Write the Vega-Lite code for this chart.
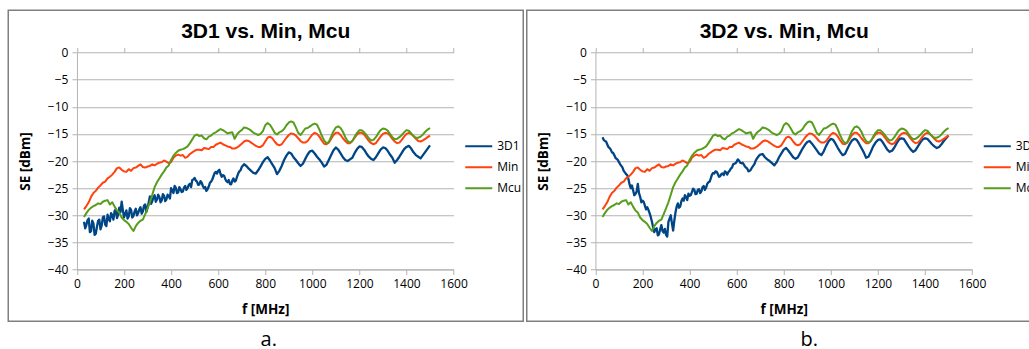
{
  "$schema": "https://vega.github.io/schema/vega-lite/v6.json",
  "background": "white",
  "padding": {"left": 7.25, "top": 9.25, "right": 0, "bottom": 6},
  "spacing": 1.5,
  "resolve": {"scale": {"color": "independent"}},
  "config": {
    "view": {"stroke": "#7f7f7f", "strokeWidth": 1.5},
    "axis": {
      "labelFont": "Open Sans", "labelFontSize": 12, "labelColor": "#000000",
      "titleFont": "Open Sans", "titleFontSize": 13.5, "titleFontWeight": "bold", "titleColor": "#000000",
      "domainColor": "#b3b3b3", "tickColor": "#b3b3b3", "gridColor": "#b3b3b3",
      "domainWidth": 1, "tickWidth": 1, "gridWidth": 1, "tickSize": 5, "labelPadding": 4,
      "labelFlush": false, "labelOverlap": false
    },
    "line": {"strokeWidth": 2, "strokeJoin": "round"}
  },
  "datasets": {
    "min": [
      {"f":30,"v":-28.9},{"f":40,"v":-28.3},{"f":50,"v":-27.6},{"f":60,"v":-26.6},{"f":70,"v":-25.9},{"f":80,"v":-25.5},{"f":90,"v":-24.9},{"f":100,"v":-24.5},{"f":110,"v":-24.0},{"f":120,"v":-23.8},
      {"f":130,"v":-23.2},{"f":140,"v":-22.9},{"f":150,"v":-22.5},{"f":160,"v":-22.0},{"f":170,"v":-21.3},{"f":180,"v":-21.2},{"f":190,"v":-21.6},{"f":200,"v":-21.9},{"f":210,"v":-22.0},{"f":220,"v":-21.5},
      {"f":230,"v":-21.8},{"f":240,"v":-21.3},{"f":250,"v":-21.2},{"f":260,"v":-20.9},{"f":270,"v":-20.6},{"f":280,"v":-21.1},{"f":290,"v":-21.2},{"f":300,"v":-21.0},{"f":310,"v":-20.9},{"f":320,"v":-20.6},
      {"f":330,"v":-20.8},{"f":340,"v":-20.5},{"f":350,"v":-20.3},{"f":360,"v":-20.2},{"f":370,"v":-19.9},{"f":380,"v":-20.1},{"f":390,"v":-20.4},{"f":400,"v":-20.2},{"f":410,"v":-19.4},{"f":420,"v":-19.0},
      {"f":430,"v":-18.8},{"f":440,"v":-19.0},{"f":450,"v":-18.9},{"f":460,"v":-19.4},{"f":470,"v":-19.2},{"f":480,"v":-18.7},{"f":490,"v":-18.4},{"f":500,"v":-18.1},{"f":510,"v":-17.9},{"f":520,"v":-17.9},
      {"f":530,"v":-18.0},{"f":540,"v":-17.6},{"f":550,"v":-17.7},{"f":560,"v":-17.8},{"f":570,"v":-17.4},{"f":580,"v":-17.4},{"f":590,"v":-17.0},{"f":600,"v":-16.8},{"f":610,"v":-16.6},{"f":620,"v":-16.9},
      {"f":630,"v":-17.1},{"f":640,"v":-17.3},{"f":650,"v":-17.4},{"f":660,"v":-17.7},{"f":670,"v":-17.7},{"f":680,"v":-17.5},{"f":690,"v":-17.2},{"f":700,"v":-16.8},{"f":710,"v":-16.4},{"f":720,"v":-16.2},
      {"f":730,"v":-16.3},{"f":740,"v":-16.6},{"f":750,"v":-16.9},{"f":760,"v":-17.2},{"f":770,"v":-17.4},{"f":780,"v":-17.4},{"f":790,"v":-17.1},{"f":800,"v":-16.4},{"f":810,"v":-15.7},{"f":820,"v":-15.5},
      {"f":830,"v":-15.8},{"f":840,"v":-16.4},{"f":850,"v":-16.9},{"f":860,"v":-17.1},{"f":870,"v":-16.9},{"f":880,"v":-16.3},{"f":890,"v":-15.7},{"f":900,"v":-15.2},{"f":910,"v":-14.9},{"f":920,"v":-15.0},
      {"f":930,"v":-15.3},{"f":940,"v":-15.8},{"f":950,"v":-16.3},{"f":960,"v":-16.6},{"f":970,"v":-16.6},{"f":980,"v":-16.3},{"f":990,"v":-15.7},{"f":1000,"v":-15.1},{"f":1010,"v":-14.8},{"f":1020,"v":-15.0},
      {"f":1030,"v":-15.5},{"f":1040,"v":-16.2},{"f":1050,"v":-16.8},{"f":1060,"v":-16.9},{"f":1070,"v":-16.6},{"f":1080,"v":-15.9},{"f":1090,"v":-15.2},{"f":1100,"v":-14.8},{"f":1110,"v":-14.8},{"f":1120,"v":-15.2},
      {"f":1130,"v":-15.8},{"f":1140,"v":-16.3},{"f":1150,"v":-16.7},{"f":1160,"v":-16.7},{"f":1170,"v":-16.3},{"f":1180,"v":-15.7},{"f":1190,"v":-15.1},{"f":1200,"v":-14.8},{"f":1210,"v":-14.8},{"f":1220,"v":-15.1},
      {"f":1230,"v":-15.7},{"f":1240,"v":-16.3},{"f":1250,"v":-16.7},{"f":1260,"v":-16.9},{"f":1270,"v":-16.7},{"f":1280,"v":-16.1},{"f":1290,"v":-15.5},{"f":1300,"v":-15.0},{"f":1310,"v":-14.8},{"f":1320,"v":-14.9},
      {"f":1330,"v":-15.3},{"f":1340,"v":-15.9},{"f":1350,"v":-16.4},{"f":1360,"v":-16.7},{"f":1370,"v":-16.6},{"f":1380,"v":-16.1},{"f":1390,"v":-15.5},{"f":1400,"v":-15.0},{"f":1410,"v":-14.8},{"f":1420,"v":-15.0},
      {"f":1430,"v":-15.4},{"f":1440,"v":-15.9},{"f":1450,"v":-16.3},{"f":1460,"v":-16.4},{"f":1470,"v":-16.2},{"f":1480,"v":-15.9},{"f":1490,"v":-15.6},{"f":1500,"v":-15.3}
    ],
    "mcu": [
      {"f":30,"v":-30.3},{"f":40,"v":-29.6},{"f":50,"v":-29.0},{"f":60,"v":-28.6},{"f":70,"v":-28.3},{"f":80,"v":-28.1},{"f":90,"v":-27.8},{"f":100,"v":-27.9},{"f":110,"v":-27.5},{"f":120,"v":-27.3},
      {"f":130,"v":-27.2},{"f":140,"v":-28.0},{"f":150,"v":-27.6},{"f":160,"v":-28.4},{"f":170,"v":-29.1},{"f":180,"v":-29.5},{"f":190,"v":-30.4},{"f":200,"v":-30.9},{"f":210,"v":-31.2},{"f":220,"v":-31.6},
      {"f":230,"v":-32.3},{"f":240,"v":-32.9},{"f":250,"v":-32.0},{"f":260,"v":-31.4},{"f":270,"v":-31.0},{"f":280,"v":-30.8},{"f":290,"v":-29.8},{"f":300,"v":-28.7},{"f":310,"v":-27.6},{"f":320,"v":-26.2},
      {"f":330,"v":-24.8},{"f":340,"v":-23.9},{"f":350,"v":-23.2},{"f":360,"v":-22.5},{"f":370,"v":-21.9},{"f":380,"v":-21.2},{"f":390,"v":-20.8},{"f":400,"v":-19.8},{"f":410,"v":-19.0},{"f":420,"v":-18.5},
      {"f":430,"v":-18.1},{"f":440,"v":-17.9},{"f":450,"v":-17.8},{"f":460,"v":-17.6},{"f":470,"v":-17.3},{"f":480,"v":-16.7},{"f":490,"v":-16.0},{"f":500,"v":-15.3},{"f":510,"v":-15.1},{"f":520,"v":-15.4},
      {"f":530,"v":-15.3},{"f":540,"v":-15.8},{"f":550,"v":-16.0},{"f":560,"v":-15.5},{"f":570,"v":-15.3},{"f":580,"v":-14.9},{"f":590,"v":-14.7},{"f":600,"v":-14.4},{"f":610,"v":-14.1},{"f":620,"v":-14.3},
      {"f":630,"v":-14.6},{"f":640,"v":-14.9},{"f":650,"v":-14.8},{"f":660,"v":-14.7},{"f":670,"v":-15.9},{"f":680,"v":-15.1},{"f":690,"v":-14.6},{"f":700,"v":-14.3},{"f":710,"v":-13.8},{"f":720,"v":-13.9},
      {"f":730,"v":-14.1},{"f":740,"v":-14.4},{"f":750,"v":-14.8},{"f":760,"v":-15.0},{"f":770,"v":-15.2},{"f":780,"v":-15.0},{"f":790,"v":-14.5},{"f":800,"v":-13.4},{"f":810,"v":-13.0},{"f":820,"v":-13.3},
      {"f":830,"v":-14.0},{"f":840,"v":-14.8},{"f":850,"v":-15.1},{"f":860,"v":-14.7},{"f":870,"v":-14.5},{"f":880,"v":-14.1},{"f":890,"v":-13.4},{"f":900,"v":-12.9},{"f":910,"v":-12.7},{"f":920,"v":-12.9},
      {"f":930,"v":-13.8},{"f":940,"v":-14.8},{"f":950,"v":-15.2},{"f":960,"v":-14.6},{"f":970,"v":-14.0},{"f":980,"v":-13.9},{"f":990,"v":-13.6},{"f":1000,"v":-13.3},{"f":1010,"v":-13.1},{"f":1020,"v":-13.3},
      {"f":1030,"v":-14.2},{"f":1040,"v":-15.3},{"f":1050,"v":-16.2},{"f":1060,"v":-16.7},{"f":1070,"v":-16.5},{"f":1080,"v":-15.5},{"f":1090,"v":-14.5},{"f":1100,"v":-13.8},{"f":1110,"v":-13.6},{"f":1120,"v":-13.9},
      {"f":1130,"v":-14.6},{"f":1140,"v":-15.6},{"f":1150,"v":-16.3},{"f":1160,"v":-16.6},{"f":1170,"v":-16.3},{"f":1180,"v":-15.5},{"f":1190,"v":-14.8},{"f":1200,"v":-14.3},{"f":1210,"v":-14.3},{"f":1220,"v":-14.7},
      {"f":1230,"v":-15.2},{"f":1240,"v":-15.8},{"f":1250,"v":-16.2},{"f":1260,"v":-16.1},{"f":1270,"v":-15.6},{"f":1280,"v":-14.9},{"f":1290,"v":-14.3},{"f":1300,"v":-14.0},{"f":1310,"v":-14.1},{"f":1320,"v":-14.4},
      {"f":1330,"v":-15.0},{"f":1340,"v":-15.6},{"f":1350,"v":-16.0},{"f":1360,"v":-15.9},{"f":1370,"v":-15.6},{"f":1380,"v":-15.2},{"f":1390,"v":-14.7},{"f":1400,"v":-14.3},{"f":1410,"v":-14.4},{"f":1420,"v":-14.9},
      {"f":1430,"v":-15.4},{"f":1440,"v":-15.7},{"f":1450,"v":-15.7},{"f":1460,"v":-15.5},{"f":1470,"v":-15.1},{"f":1480,"v":-14.6},{"f":1490,"v":-14.2},{"f":1500,"v":-13.9}
    ],
    "d1": [
      {"f":30,"v":-31.2},{"f":40,"v":-31.8},{"f":50,"v":-30.6},{"f":60,"v":-32.9},{"f":70,"v":-31.5},{"f":80,"v":-33.4},{"f":90,"v":-31.0},{"f":100,"v":-32.6},{"f":110,"v":-30.4},{"f":120,"v":-31.7},
      {"f":130,"v":-29.9},{"f":140,"v":-31.1},{"f":150,"v":-30.0},{"f":160,"v":-29.2},{"f":170,"v":-30.5},{"f":180,"v":-28.6},{"f":190,"v":-27.5},{"f":200,"v":-30.4},{"f":210,"v":-29.1},{"f":220,"v":-30.2},
      {"f":230,"v":-29.0},{"f":240,"v":-30.1},{"f":250,"v":-28.8},{"f":260,"v":-29.6},{"f":270,"v":-28.5},{"f":280,"v":-29.3},{"f":290,"v":-28.0},{"f":300,"v":-28.6},{"f":310,"v":-26.5},{"f":320,"v":-27.4},
      {"f":330,"v":-26.3},{"f":340,"v":-27.1},{"f":350,"v":-26.6},{"f":360,"v":-27.3},{"f":370,"v":-26.4},{"f":380,"v":-27.1},{"f":390,"v":-26.5},{"f":400,"v":-25.0},{"f":410,"v":-25.9},{"f":420,"v":-24.9},
      {"f":430,"v":-25.8},{"f":440,"v":-25.2},{"f":450,"v":-25.6},{"f":460,"v":-24.6},{"f":470,"v":-25.0},{"f":480,"v":-24.2},{"f":490,"v":-23.5},{"f":500,"v":-23.1},{"f":510,"v":-23.8},{"f":520,"v":-24.3},
      {"f":530,"v":-24.0},{"f":540,"v":-25.0},{"f":550,"v":-25.5},{"f":560,"v":-24.7},{"f":570,"v":-23.8},{"f":580,"v":-22.8},{"f":590,"v":-22.0},{"f":600,"v":-21.8},{"f":610,"v":-22.4},{"f":620,"v":-22.6},
      {"f":630,"v":-23.3},{"f":640,"v":-23.9},{"f":650,"v":-24.2},{"f":660,"v":-23.6},{"f":670,"v":-23.8},{"f":680,"v":-22.9},{"f":690,"v":-21.9},{"f":700,"v":-21.1},{"f":710,"v":-20.6},{"f":720,"v":-20.9},
      {"f":730,"v":-21.4},{"f":740,"v":-21.8},{"f":750,"v":-22.2},{"f":760,"v":-22.3},{"f":770,"v":-21.7},{"f":780,"v":-21.0},{"f":790,"v":-20.2},{"f":800,"v":-19.6},{"f":810,"v":-19.3},{"f":820,"v":-19.9},
      {"f":830,"v":-20.6},{"f":840,"v":-21.3},{"f":850,"v":-22.4},{"f":860,"v":-21.8},{"f":870,"v":-20.9},{"f":880,"v":-19.8},{"f":890,"v":-19.0},{"f":900,"v":-18.4},{"f":910,"v":-18.6},{"f":920,"v":-19.3},
      {"f":930,"v":-19.8},{"f":940,"v":-20.4},{"f":950,"v":-20.9},{"f":960,"v":-20.5},{"f":970,"v":-19.6},{"f":980,"v":-18.8},{"f":990,"v":-18.2},{"f":1000,"v":-18.1},{"f":1010,"v":-18.6},{"f":1020,"v":-19.2},
      {"f":1030,"v":-19.7},{"f":1040,"v":-20.3},{"f":1050,"v":-21.0},{"f":1060,"v":-20.7},{"f":1070,"v":-19.8},{"f":1080,"v":-18.9},{"f":1090,"v":-18.0},{"f":1100,"v":-17.5},{"f":1110,"v":-17.9},{"f":1120,"v":-18.6},
      {"f":1130,"v":-19.3},{"f":1140,"v":-19.8},{"f":1150,"v":-20.0},{"f":1160,"v":-19.7},{"f":1170,"v":-19.4},{"f":1180,"v":-18.5},{"f":1190,"v":-17.8},{"f":1200,"v":-17.3},{"f":1210,"v":-17.4},{"f":1220,"v":-17.9},
      {"f":1230,"v":-18.6},{"f":1240,"v":-19.2},{"f":1250,"v":-19.6},{"f":1260,"v":-19.8},{"f":1270,"v":-19.3},{"f":1280,"v":-18.6},{"f":1290,"v":-17.9},{"f":1300,"v":-17.5},{"f":1310,"v":-17.6},{"f":1320,"v":-18.1},
      {"f":1330,"v":-18.8},{"f":1340,"v":-19.4},{"f":1350,"v":-20.3},{"f":1360,"v":-19.8},{"f":1370,"v":-19.2},{"f":1380,"v":-18.5},{"f":1390,"v":-17.8},{"f":1400,"v":-17.4},{"f":1410,"v":-17.2},{"f":1420,"v":-17.7},
      {"f":1430,"v":-18.4},{"f":1440,"v":-18.9},{"f":1450,"v":-19.2},{"f":1460,"v":-19.5},{"f":1470,"v":-18.9},{"f":1480,"v":-18.3},{"f":1490,"v":-17.7},{"f":1500,"v":-17.1},
      {"f":35,"v":-32.4},{"f":45,"v":-30.9},{"f":55,"v":-33.1},{"f":65,"v":-31.0},{"f":75,"v":-33.6},{"f":85,"v":-32.1},{"f":95,"v":-30.8},{"f":105,"v":-31.9},{"f":115,"v":-30.2},{"f":125,"v":-32.0},
      {"f":135,"v":-30.7},{"f":145,"v":-29.6},{"f":155,"v":-30.8},{"f":165,"v":-28.9},{"f":175,"v":-29.9},{"f":185,"v":-29.4},{"f":195,"v":-29.0},{"f":205,"v":-29.8},{"f":215,"v":-30.6},{"f":225,"v":-28.7},
      {"f":235,"v":-30.4},{"f":245,"v":-29.3},{"f":255,"v":-30.0},{"f":265,"v":-28.9},{"f":275,"v":-29.7},{"f":285,"v":-28.2},{"f":295,"v":-29.4},{"f":305,"v":-27.6},{"f":315,"v":-27.9},{"f":325,"v":-26.7},
      {"f":335,"v":-27.5},{"f":345,"v":-26.2},{"f":355,"v":-27.6},{"f":365,"v":-26.1},{"f":375,"v":-27.4},{"f":385,"v":-26.2},{"f":395,"v":-26.9},{"f":405,"v":-25.4},{"f":415,"v":-24.6},{"f":425,"v":-25.9},
      {"f":435,"v":-24.8},{"f":445,"v":-25.7},{"f":455,"v":-24.9},{"f":465,"v":-25.3},{"f":475,"v":-24.4},{"f":485,"v":-24.8},{"f":495,"v":-23.4},{"f":505,"v":-23.6},{"f":515,"v":-24.4},{"f":525,"v":-23.7},
      {"f":535,"v":-24.6},{"f":545,"v":-24.8},{"f":555,"v":-25.2},{"f":565,"v":-24.0},{"f":575,"v":-23.4},{"f":585,"v":-22.2},{"f":595,"v":-22.3},{"f":605,"v":-21.6},{"f":615,"v":-22.9},{"f":625,"v":-22.7},
      {"f":635,"v":-23.7},{"f":645,"v":-23.5},{"f":655,"v":-24.3},{"f":665,"v":-23.2},{"f":675,"v":-23.6},{"f":685,"v":-22.3},{"f":695,"v":-21.7}
    ],
    "d2": [
      {"f":30,"v":-15.6},{"f":40,"v":-16.3},{"f":50,"v":-16.9},{"f":60,"v":-17.6},{"f":70,"v":-18.4},{"f":80,"v":-18.9},{"f":90,"v":-19.6},{"f":100,"v":-20.2},{"f":110,"v":-20.9},{"f":120,"v":-21.8},
      {"f":130,"v":-22.4},{"f":140,"v":-23.3},{"f":150,"v":-25.0},{"f":160,"v":-25.4},{"f":170,"v":-26.1},{"f":180,"v":-24.2},{"f":190,"v":-26.6},{"f":200,"v":-27.3},{"f":210,"v":-28.2},{"f":220,"v":-28.5},
      {"f":230,"v":-29.6},{"f":240,"v":-31.2},{"f":250,"v":-33.1},{"f":260,"v":-32.4},{"f":270,"v":-33.5},{"f":280,"v":-31.8},{"f":290,"v":-33.2},{"f":300,"v":-33.6},{"f":310,"v":-31.2},{"f":320,"v":-30.0},
      {"f":330,"v":-32.8},{"f":340,"v":-29.5},{"f":350,"v":-27.8},{"f":360,"v":-28.4},{"f":370,"v":-26.9},{"f":380,"v":-26.3},{"f":390,"v":-27.2},{"f":400,"v":-26.4},{"f":410,"v":-25.7},{"f":420,"v":-25.3},
      {"f":430,"v":-26.0},{"f":440,"v":-25.2},{"f":450,"v":-25.6},{"f":460,"v":-24.6},{"f":470,"v":-24.9},{"f":480,"v":-23.9},{"f":490,"v":-23.2},{"f":500,"v":-22.2},{"f":510,"v":-21.9},{"f":520,"v":-22.4},
      {"f":530,"v":-22.8},{"f":540,"v":-22.3},{"f":550,"v":-21.9},{"f":560,"v":-22.5},{"f":570,"v":-21.8},{"f":580,"v":-21.2},{"f":590,"v":-20.5},{"f":600,"v":-20.1},{"f":610,"v":-19.9},{"f":620,"v":-20.4},
      {"f":630,"v":-20.6},{"f":640,"v":-21.2},{"f":650,"v":-21.9},{"f":660,"v":-21.6},{"f":670,"v":-20.9},{"f":680,"v":-20.0},{"f":690,"v":-19.3},{"f":700,"v":-18.8},{"f":710,"v":-18.7},{"f":720,"v":-19.3},
      {"f":730,"v":-19.7},{"f":740,"v":-20.0},{"f":750,"v":-20.4},{"f":760,"v":-20.8},{"f":770,"v":-20.2},{"f":780,"v":-19.3},{"f":790,"v":-18.6},{"f":800,"v":-17.9},{"f":810,"v":-17.6},{"f":820,"v":-18.1},
      {"f":830,"v":-18.7},{"f":840,"v":-19.3},{"f":850,"v":-19.6},{"f":860,"v":-19.3},{"f":870,"v":-18.5},{"f":880,"v":-17.7},{"f":890,"v":-17.0},{"f":900,"v":-16.5},{"f":910,"v":-16.3},{"f":920,"v":-16.8},
      {"f":930,"v":-17.4},{"f":940,"v":-18.0},{"f":950,"v":-18.6},{"f":960,"v":-18.9},{"f":970,"v":-18.2},{"f":980,"v":-17.2},{"f":990,"v":-16.4},{"f":1000,"v":-15.9},{"f":1010,"v":-16.1},{"f":1020,"v":-16.8},
      {"f":1030,"v":-17.6},{"f":1040,"v":-18.3},{"f":1050,"v":-18.9},{"f":1060,"v":-18.7},{"f":1070,"v":-17.8},{"f":1080,"v":-16.9},{"f":1090,"v":-16.2},{"f":1100,"v":-15.9},{"f":1110,"v":-16.1},{"f":1120,"v":-16.8},
      {"f":1130,"v":-17.6},{"f":1140,"v":-18.4},{"f":1150,"v":-19.4},{"f":1160,"v":-19.2},{"f":1170,"v":-18.3},{"f":1180,"v":-17.3},{"f":1190,"v":-16.6},{"f":1200,"v":-16.1},{"f":1210,"v":-16.0},{"f":1220,"v":-16.5},
      {"f":1230,"v":-17.2},{"f":1240,"v":-17.9},{"f":1250,"v":-18.3},{"f":1260,"v":-18.1},{"f":1270,"v":-17.5},{"f":1280,"v":-16.7},{"f":1290,"v":-16.0},{"f":1300,"v":-15.8},{"f":1310,"v":-15.9},{"f":1320,"v":-16.6},
      {"f":1330,"v":-17.3},{"f":1340,"v":-17.9},{"f":1350,"v":-18.3},{"f":1360,"v":-18.0},{"f":1370,"v":-17.3},{"f":1380,"v":-16.6},{"f":1390,"v":-16.0},{"f":1400,"v":-15.8},{"f":1410,"v":-15.9},{"f":1420,"v":-16.4},
      {"f":1430,"v":-16.9},{"f":1440,"v":-17.3},{"f":1450,"v":-17.6},{"f":1460,"v":-17.4},{"f":1470,"v":-16.9},{"f":1480,"v":-16.3},{"f":1490,"v":-15.8},{"f":1500,"v":-15.3},
      {"f":35,"v":-16.1},{"f":45,"v":-16.4},{"f":55,"v":-17.4},{"f":65,"v":-17.9},{"f":75,"v":-18.5},{"f":85,"v":-19.4},{"f":95,"v":-19.8},{"f":105,"v":-20.6},{"f":115,"v":-21.2},{"f":125,"v":-22.1},
      {"f":135,"v":-22.6},{"f":145,"v":-24.3},{"f":155,"v":-24.5},{"f":165,"v":-26.3},{"f":175,"v":-25.6},{"f":185,"v":-25.9},{"f":195,"v":-27.6},{"f":205,"v":-27.5},{"f":215,"v":-28.9},{"f":225,"v":-29.0},
      {"f":235,"v":-30.3},{"f":245,"v":-32.2},{"f":255,"v":-32.6},{"f":265,"v":-33.7},{"f":275,"v":-32.6},{"f":285,"v":-32.9},{"f":295,"v":-32.5},{"f":305,"v":-33.9},{"f":315,"v":-30.6},{"f":325,"v":-31.5},
      {"f":335,"v":-31.0},{"f":345,"v":-28.4},{"f":355,"v":-28.6},{"f":365,"v":-27.4},{"f":375,"v":-27.3},{"f":385,"v":-26.6},{"f":395,"v":-26.0},{"f":405,"v":-26.3},{"f":415,"v":-25.1},{"f":425,"v":-26.1},
      {"f":435,"v":-25.3},{"f":445,"v":-25.9},{"f":455,"v":-24.8},{"f":465,"v":-25.3},{"f":475,"v":-24.2},{"f":485,"v":-23.8},{"f":495,"v":-22.5},{"f":505,"v":-22.3},{"f":515,"v":-22.0},{"f":525,"v":-22.9},
      {"f":535,"v":-22.4},{"f":545,"v":-22.6},{"f":555,"v":-22.1},{"f":565,"v":-22.0},{"f":575,"v":-21.4},{"f":585,"v":-20.6},{"f":595,"v":-20.4},{"f":605,"v":-19.7},{"f":615,"v":-20.3},{"f":625,"v":-20.3},
      {"f":635,"v":-21.0},{"f":645,"v":-21.4},{"f":655,"v":-21.8},{"f":665,"v":-21.2},{"f":675,"v":-20.6},{"f":685,"v":-19.6},{"f":695,"v":-19.0}
    ]
  },
  "hconcat": [
    {
      "title": {"text": "a.", "orient": "bottom", "anchor": "middle", "frame": "bounds", "baseline": "alphabetic", "offset": 23.5, "dx": 3, "font": "Open Sans", "fontSize": 20, "fontWeight": "normal", "color": "#000000"},
      "vconcat": [
        {
          "width": 515,
          "height": 311,
          "encoding": {
            "x": {"field": "f", "type": "quantitative",
                  "scale": {"domain": [0, 1600], "range": [68.7, 445.3], "nice": false, "zero": false},
                  "axis": {"orient": "bottom", "title": "f [MHz]", "format": "d", "values": [0, 200, 400, 600, 800, 1000, 1200, 1400, 1600], "grid": false, "offset": -51.7, "titlePadding": 13}},
            "y": {"field": "v", "type": "quantitative",
                  "scale": {"domain": [-40, 0], "range": [259.3, 42.3], "nice": false, "zero": false},
                  "axis": {"title": "SE [dBm]", "values": [-40, -35, -30, -25, -20, -15, -10, -5, 0], "grid": true, "offset": -68.7, "titlePadding": 15}}
          },
          "layer": [
            {"data": {"name": "d1"}, "mark": {"type": "line", "strokeWidth": 2.3},
             "encoding": {
               "x": {"field": "f", "type": "quantitative",
                     "axis": {"orient": "top", "title": "3D1 vs. Min, Mcu", "values": [0, 200, 400, 600, 800, 1000, 1200, 1400, 1600], "offset": -42.3, "labels": false, "domain": false, "grid": false,
                              "titleFont": "Liberation Sans", "titleFontSize": 21, "titleFontWeight": "bold", "titleBaseline": "alphabetic", "titleY": -15}},
               "color": {"datum": "3D1", "type": "nominal",
                 "scale": {"domain": ["3D1", "Min", "Mcu"], "range": ["#004586", "#ff420e", "#579d1c"]},
                 "legend": {"orient": "none", "legendX": 456, "legendY": 125.8, "title": null, "symbolType": "stroke", "symbolSize": 729, "symbolStrokeWidth": 2.5, "clipHeight": 20.5, "rowPadding": 0, "padding": 0, "labelFont": "Open Sans", "labelFontSize": 12, "labelColor": "#000000", "labelOffset": 4}}}},
            {"data": {"name": "min"}, "mark": {"type": "line"}, "encoding": {"color": {"datum": "Min", "type": "nominal"}}},
            {"data": {"name": "mcu"}, "mark": {"type": "line"},
             "encoding": {"x": {"field": "f", "type": "quantitative", "axis": null}, "color": {"datum": "Mcu", "type": "nominal"}}}
          ]
        }
      ]
    },
    {
      "title": {"text": "b.", "orient": "bottom", "anchor": "middle", "frame": "bounds", "baseline": "alphabetic", "offset": 23.5, "dx": 25, "font": "Open Sans", "fontSize": 20, "fontWeight": "normal", "color": "#000000"},
      "vconcat": [
        {
          "width": 515,
          "height": 311,
          "encoding": {
            "x": {"field": "f", "type": "quantitative",
                  "scale": {"domain": [0, 1600], "range": [68.7, 445.3], "nice": false, "zero": false},
                  "axis": {"orient": "bottom", "title": "f [MHz]", "format": "d", "values": [0, 200, 400, 600, 800, 1000, 1200, 1400, 1600], "grid": false, "offset": -51.7, "titlePadding": 13}},
            "y": {"field": "v", "type": "quantitative",
                  "scale": {"domain": [-40, 0], "range": [259.3, 42.3], "nice": false, "zero": false},
                  "axis": {"title": "SE [dBm]", "values": [-40, -35, -30, -25, -20, -15, -10, -5, 0], "grid": true, "offset": -68.7, "titlePadding": 15}}
          },
          "layer": [
            {"data": {"name": "d2"}, "mark": {"type": "line", "strokeWidth": 2.3},
             "encoding": {
               "x": {"field": "f", "type": "quantitative",
                     "axis": {"orient": "top", "title": "3D2 vs. Min, Mcu", "values": [0, 200, 400, 600, 800, 1000, 1200, 1400, 1600], "offset": -42.3, "labels": false, "domain": false, "grid": false,
                              "titleFont": "Liberation Sans", "titleFontSize": 21, "titleFontWeight": "bold", "titleBaseline": "alphabetic", "titleY": -15}},
               "color": {"datum": "3D2", "type": "nominal",
                 "scale": {"domain": ["3D2", "Min", "Mcu"], "range": ["#004586", "#ff420e", "#579d1c"]},
                 "legend": {"orient": "none", "legendX": 456, "legendY": 125.8, "title": null, "symbolType": "stroke", "symbolSize": 729, "symbolStrokeWidth": 2.5, "clipHeight": 20.5, "rowPadding": 0, "padding": 0, "labelFont": "Open Sans", "labelFontSize": 12, "labelColor": "#000000", "labelOffset": 4}}}},
            {"data": {"name": "min"}, "mark": {"type": "line"}, "encoding": {"color": {"datum": "Min", "type": "nominal"}}},
            {"data": {"name": "mcu"}, "mark": {"type": "line"},
             "encoding": {"x": {"field": "f", "type": "quantitative", "axis": null}, "color": {"datum": "Mcu", "type": "nominal"}}}
          ]
        }
      ]
    }
  ]
}
